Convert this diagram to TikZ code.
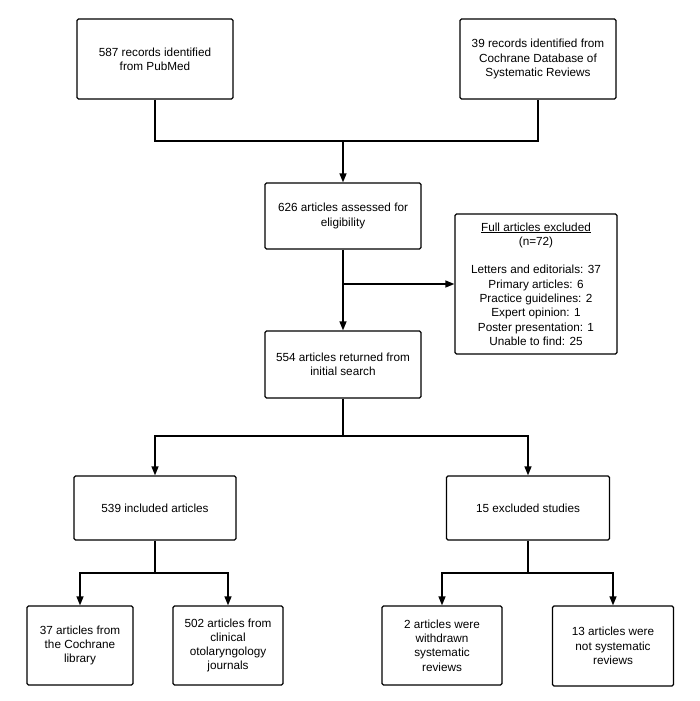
\documentclass[tikz,border=0pt]{standalone}
\usepackage{fontspec}
\setmainfont{Liberation Sans}
\usetikzlibrary{arrows.meta}
\tikzset{
  box/.style={draw, line width=1.3pt, rounded corners=1.5pt, align=center, inner sep=2pt,
    font=\fontsize{11.75}{14.3}\selectfont, fill=white},
  conn/.style={line width=1.4pt},
  arr/.style={conn, -{Triangle[length=9pt,width=7pt]}}
}
\begin{document}
\begin{tikzpicture}[x=1pt,y=-1pt]
\useasboundingbox (0,0) rectangle (700,701);
\node[box, minimum width=156pt, minimum height=80pt] (A) at (155,59) {587 records identified\\from PubMed};
\node[box, minimum width=156pt, minimum height=80pt] (B) at (538,59) {39 records identified from\\Cochrane Database of\\Systematic Reviews};
\node[box, minimum width=156pt, minimum height=66pt] (C) at (343,216) {626 articles assessed for\\eligibility};
\node[box, minimum width=162pt, minimum height=140pt] (X) at (536,284) {\underline{Full articles excluded}\\(n=72)\\[14.3pt]Letters and editorials: 37\\Primary articles: 6\\Practice guidelines: 2\\Expert opinion: 1\\Poster presentation: 1\\Unable to find: 25};
\node[box, minimum width=156pt, minimum height=67pt] (D) at (343,364.5) {554 articles returned from\\initial search};
\node[box, minimum width=162pt, minimum height=64pt] (E) at (155,508) {539 included articles};
\node[box, minimum width=163pt, minimum height=64pt] (F) at (528,508) {15 excluded studies};
\node[box, minimum width=106pt, minimum height=79pt] (G) at (80,645.5) {37 articles from\\the Cochrane\\library};
\node[box, minimum width=110pt, minimum height=79pt] (H) at (228,645.5) {502 articles from\\clinical\\otolaryngology\\journals};
\node[box, minimum width=120pt, minimum height=79pt] (I) at (442,645.5) {2 articles were\\withdrawn\\systematic\\reviews};
\node[box, minimum width=121pt, minimum height=80pt] (J) at (613,646) {13 articles were\\not systematic\\reviews};
\coordinate (j1) at (343,141);
\coordinate (j2) at (343,436);
\coordinate (j3) at (155,573);
\coordinate (j4) at (528,573);
\draw[conn] (A.south) |- (j1) -| (B.south);
\draw[arr] (j1) -- (C.north);
\draw[arr] (C.south) -- (D.north);
\draw[arr] (C.south |- X.west) -- (X.west);
\draw[conn] (D.south) -- (j2);
\draw[arr] (j2) -| (E.north);
\draw[arr] (j2) -| (F.north);
\draw[conn] (E.south) -- (j3);
\draw[arr] (j3) -| (G.north);
\draw[arr] (j3) -| (H.north);
\draw[conn] (F.south) -- (j4);
\draw[arr] (j4) -| (I.north);
\draw[arr] (j4) -| (J.north);
\end{tikzpicture}
\end{document}
